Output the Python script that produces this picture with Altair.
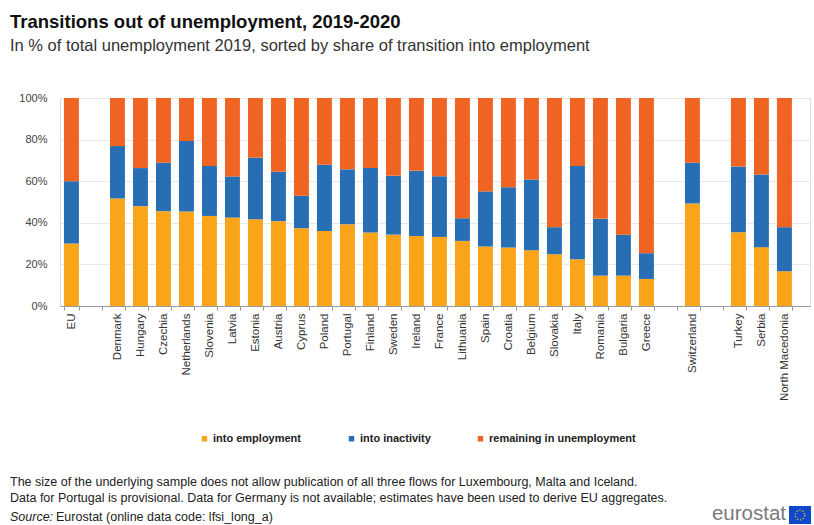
import altair as alt
import pandas as pd

# ---------------- data ----------------
countries = ["EU", "Denmark", "Hungary", "Czechia", "Netherlands", "Slovenia", "Latvia",
             "Estonia", "Austria", "Cyprus", "Poland", "Portugal", "Finland", "Sweden",
             "Ireland", "France", "Lithuania", "Spain", "Croatia", "Belgium", "Slovakia",
             "Italy", "Romania", "Bulgaria", "Greece", "Switzerland", "Turkey", "Serbia",
             "North Macedonia"]
into_employment = [30.0, 51.7, 48.0, 45.6, 45.4, 43.3, 42.5, 41.7, 40.8, 37.4, 36.0, 39.3,
                   35.3, 34.3, 33.7, 33.2, 31.3, 28.6, 28.1, 26.8, 24.9, 22.5, 14.6, 14.6,
                   13.0, 49.3, 35.5, 28.3, 16.7]
into_inactivity = [30.0, 25.2, 18.3, 23.3, 33.9, 24.0, 19.8, 29.6, 23.7, 15.6, 31.9, 26.4,
                   31.0, 28.3, 31.3, 29.2, 10.9, 26.5, 29.0, 34.0, 13.0, 44.8, 27.3, 19.7,
                   12.4, 19.6, 31.6, 34.9, 21.2]
remaining = [40.0, 23.1, 33.7, 31.1, 20.7, 32.7, 37.7, 28.7, 35.5, 47.0, 32.1, 34.3,
             33.7, 37.4, 35.0, 37.6, 57.8, 44.9, 42.9, 39.2, 62.1, 32.7, 58.1, 65.7,
             74.6, 31.1, 32.9, 36.8, 62.1]

# axis slots, including empty separator slots
slots = ["EU", " ", "Denmark", "Hungary", "Czechia", "Netherlands", "Slovenia", "Latvia",
         "Estonia", "Austria", "Cyprus", "Poland", "Portugal", "Finland", "Sweden",
         "Ireland", "France", "Lithuania", "Spain", "Croatia", "Belgium", "Slovakia",
         "Italy", "Romania", "Bulgaria", "Greece", "  ", "Switzerland", "   ", "Turkey",
         "Serbia", "North Macedonia"]

flows = ["into employment", "into inactivity", "remaining in unemployment"]
flow_colors = ["#FAA519", "#286EB4", "#F06423"]
y_ticks = [0, 20, 40, 60, 80, 100]

footnotes = [
    "The size of the underlying sample does not allow publication of all three flows for Luxembourg, Malta and Iceland.",
    "Data for Portugal is provisional. Data for Germany is not available; estimates have been used to derive EU aggregates.",
]

rows = []
for i, c in enumerate(countries):
    for k, (f, vals) in enumerate(zip(flows, [into_employment, into_inactivity, remaining])):
        rows.append({"country": c, "flow": f, "value": vals[i], "k": k})
df = pd.DataFrame(rows)

FONT = "Arial, Liberation Sans, sans-serif"
FOOT = 12.5

bars = alt.Chart(df).mark_bar().encode(
    x=alt.X("country:N",
            scale=alt.Scale(domain=slots, paddingInner=0.35, paddingOuter=0.48, align=0.18),
            axis=alt.Axis(title=None, labelAngle=-90, tickBand="extent", tickSize=4,
                          tickColor="#9a9a9a", domainColor="#9a9a9a", labelFontSize=11.5,
                          labelColor="#333333", labelPadding=3, grid=False, labelFont=FONT)),
    y=alt.Y("value:Q", stack="zero",
            scale=alt.Scale(domain=[0, 100], nice=False),
            axis=alt.Axis(title=None, values=y_ticks, labelExpr="datum.value + '%'",
                          domain=False, ticks=False, labelPadding=13, labelFontSize=11,
                          labelColor="#444444", gridColor="#e8e8e8", labelFont=FONT)),
    color=alt.Color("flow:N",
                    scale=alt.Scale(domain=flows, range=flow_colors),
                    legend=alt.Legend(title=None, orient="none", legendX=139, legendY=335,
                                      direction="horizontal", symbolType="square",
                                      symbolSize=30, symbolStrokeWidth=0,
                                      labelFontSize=11, labelFontWeight="bold",
                                      labelColor="#222222", labelFont=FONT,
                                      columnPadding=44, labelOffset=3)),
    order=alt.Order("k:Q", sort="ascending"),
)

one = pd.DataFrame({"a": [0]})

foot1 = alt.Chart(one).mark_text(text=footnotes[0], align="left", baseline="middle",
                                 fontSize=FOOT, font=FONT, color="#222222").encode(
    x=alt.value(-50), y=alt.value(384))
foot2 = alt.Chart(one).mark_text(text=footnotes[1], align="left", baseline="middle",
                                 fontSize=FOOT, font=FONT, color="#222222").encode(
    x=alt.value(-50), y=alt.value(400))
src1 = alt.Chart(one).mark_text(text="Source:", align="left", baseline="middle",
                                fontSize=FOOT, font=FONT, fontStyle="italic",
                                color="#222222").encode(
    x=alt.value(-50), y=alt.value(419))
src2 = alt.Chart(one).mark_text(text="Eurostat (online data code: lfsi_long_a)",
                                align="left", baseline="middle", fontSize=FOOT, font=FONT,
                                color="#222222").encode(
    x=alt.value(-4), y=alt.value(419))

logo_text = alt.Chart(one).mark_text(text="eurostat", align="right", baseline="middle",
                                     fontSize=20.5, font=FONT, color="#7a7a7a").encode(
    x=alt.value(726), y=alt.value(416))
logo_flag = alt.Chart(one).mark_rect(color="#0E47CB").encode(
    x=alt.value(729), x2=alt.value(751), y=alt.value(408), y2=alt.value(426))
logo_stars = alt.Chart(one).mark_point(shape="circle", size=90, filled=False,
                                       color="#FFD617", strokeWidth=1.5,
                                       strokeDash=[1.5, 1.5]).encode(
    x=alt.value(740), y=alt.value(417))

chart = alt.layer(bars, foot1, foot2, src1, src2, logo_text, logo_flag, logo_stars).properties(
    width=750,
    height=208,
    autosize=alt.AutoSizeParams(type="none"),
    padding={"left": 60, "top": 98, "right": 4, "bottom": 219},
    title=alt.TitleParams(
        text="Transitions out of unemployment, 2019-2020",
        subtitle="In % of total unemployment 2019, sorted by share of transition into employment",
        anchor="start", frame="group", dx=-50, offset=38,
        font=FONT, fontSize=18.5, fontWeight="bold", color="#111111",
        subtitleFont=FONT, subtitleFontSize=16.5, subtitleColor="#333333",
        subtitlePadding=6,
    ),
).configure_view(stroke=None).configure(background="white")

chart.save("out.html", embed_options={"renderer": "svg", "actions": False})
